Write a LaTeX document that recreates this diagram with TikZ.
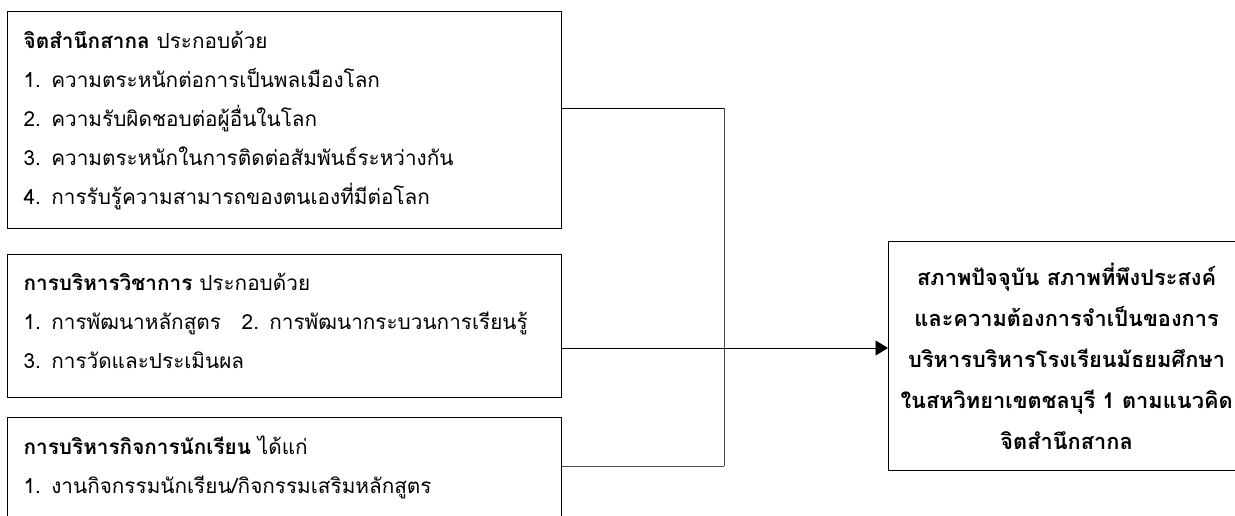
\documentclass[tikz,border=0pt]{standalone}
\usepackage{fontspec}
\newfontfamily\thaifont[Script=Thai]{Loma}
\usetikzlibrary{arrows.meta}

\begin{document}
\begin{tikzpicture}[x=0.02cm, y=-0.02cm,
          panel/.style={draw, line width=0.75pt, anchor=north west, align=left, inner xsep=0.32cm, inner ysep=0pt,
            text width=10.44cm, font=\thaifont\fontsize{11.8}{22.2}\selectfont},
          result/.style={draw, line width=0.75pt, anchor=north west, align=center, inner sep=0pt, text width=7.12cm,
            minimum height=4.58cm, font=\thaifont\bfseries\fontsize{12.4}{23.3}\selectfont},
          link/.style={line width=0.5pt},
          arr/.style={-{Triangle[length=0.25cm, width=0.3cm]}, line width=0.5pt}
      ]
        \useasboundingbox (0,0) rectangle (1235,515);
        \node[panel, minimum height=4.34cm] (mind) at (7,11) {{\bfseries จิตสำนึกสากล} ประกอบด้วย\\
          1. ความตระหนักต่อการเป็นพลเมืองโลก\\
          2. ความรับผิดชอบต่อผู้อื่นในโลก\\
          3. ความตระหนักในการติดต่อสัมพันธ์ระหว่างกัน\\
          4. การรับรู้ความสามารถของตนเองที่มีต่อโลก};
        \node[panel, minimum height=2.86cm] (acad) at (7,254) {{\bfseries การบริหารวิชาการ} ประกอบด้วย\\
          1. การพัฒนาหลักสูตร\quad 2. การพัฒนากระบวนการเรียนรู้\\
          3. การวัดและประเมินผล\vspace{0.2cm}};
        \node[panel, minimum height=1.98cm] (stud) at (7,417) {{\bfseries การบริหารกิจการนักเรียน} ได้แก่\\
          1. งานกิจกรรมนักเรียน/กิจกรรมเสริมหลักสูตร};
        \node[result] (need) at (888,241) {สภาพปัจจุบัน สภาพที่พึงประสงค์\\
          และความต้องการจำเป็นของการ\\
          บริหารบริหารโรงเรียนมัธยมศึกษา\\
          ในสหวิทยาเขตชลบุรี 1 ตามแนวคิด\\
          จิตสำนึกสากล};
        \coordinate (bustop) at (724,108);
        \coordinate (busbot) at (724,466);
        \draw[link] (mind.east |- bustop) -- (bustop);
        \draw[link, black!70] (bustop) -- (busbot);
        \draw[link, black!70] (busbot) -- (stud.east |- busbot);
        \draw[arr] (acad.east |- 0,348) -- (need.west |- 0,348);
      \end{tikzpicture}
\end{document}
